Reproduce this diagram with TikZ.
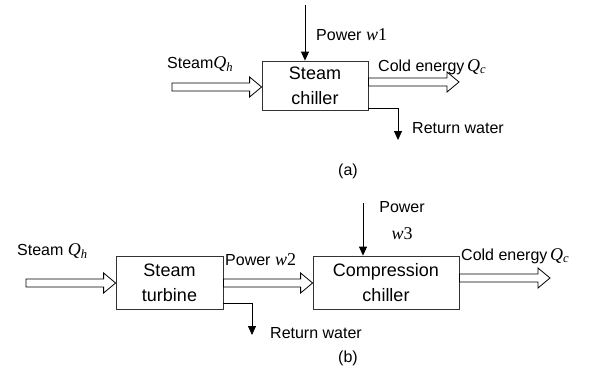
\documentclass[tikz,border=0pt]{standalone}
\usepackage{fontspec}
\setmainfont{Liberation Sans}
\newfontfamily\symfont{Liberation Serif}
\newcommand{\varsym}[2]{{\symfont\fontsize{18}{19}\selectfont\itshape #1\textsubscript{#2}}}
\newcommand{\varidx}[2]{{\symfont\fontsize{18}{19}\selectfont\textit{#1}#2}}
\usetikzlibrary{arrows.meta, calc}

\begin{document}
\begin{tikzpicture}[
  x=1pt, y=-1pt,
  unit/.style={draw=black!80, line width=0.8pt, align=center, inner sep=0pt, font=\fontsize{18}{25}\selectfont},
  pipe/.style={draw, line width=0.8pt, -{Triangle[length=9pt,width=8pt]}},
  hollow/.style={draw, line width=0.8pt, to path={
      ($(\tikztostart)+(0,-4)$) -- ($(\tikztotarget)+(-12,-4)$) -- ($(\tikztotarget)+(-12,-10)$)
      -- (\tikztotarget) -- ($(\tikztotarget)+(-12,10)$) -- ($(\tikztotarget)+(-12,4)$)
      -- ($(\tikztostart)+(0,4)$) -- cycle}},
  tag/.style={font=\fontsize{16}{19}\selectfont, anchor=west, inner sep=0pt}
]
\useasboundingbox (0,0) rectangle (594,372);

% Part (a)
\node[unit, minimum width=106, minimum height=49] (chiller) at (315,85.5) {Steam\\chiller};

\coordinate (steam1) at (172,87);
\coordinate (steam1e) at (chiller.west |- steam1);
\draw[hollow] (steam1) to (steam1e);
\node[tag] (steam1l) at (167,64) {Steam\varsym{Q}{h}};

\coordinate (pw1) at (305,5);
\draw[pipe] (pw1) -- (pw1 |- chiller.north);
\node[tag] (pw1l) at (316,35) {Power \varidx{w}{1}};

\coordinate (cold1) at (459,82);
\coordinate (cold1s) at (chiller.east |- cold1);
\draw[hollow] (cold1s) to (cold1);
\node[tag] (cold1l) at (378,67) {Cold energy\,\varsym{Q}{c}};

\coordinate (ret1) at (398,140);
\coordinate (ret1s) at ($(chiller.south east)+(0,-2)$);
\draw[pipe] (ret1s) -| (ret1);
\node[tag] (ret1l) at (412,128) {Return water};

\node[tag, anchor=center] (capa) at (348,171) {(a)};

% Part (b)
\node[unit, minimum width=107, minimum height=53] (turbine) at (169.5,282.5) {Steam\\turbine};
\node[unit, minimum width=146, minimum height=53] (comp) at (386,282.5) {Compression\\chiller};

\coordinate (steam2) at (26,283);
\coordinate (steam2e) at (steam2 -| turbine.west);
\draw[hollow] (steam2) to (steam2e);
\node[tag] (steam2l) at (17,251) {Steam \varsym{Q}{h}};

\coordinate (pw2s) at (turbine.east |- steam2);
\coordinate (pw2e) at (comp.west |- steam2);
\draw[hollow] (pw2s) to (pw2e);
\node[tag] (pw2l) at (225,260) {Power \varidx{w}{2}};

\coordinate (pw3) at (363,203);
\draw[pipe] (pw3) -- (pw3 |- comp.north);
\node[tag, align=center, anchor=center, font=\fontsize{16}{27}\selectfont] (pw3l) at (402,221) {Power\\\varidx{w}{3}};

\coordinate (cold2) at (550,278);
\coordinate (cold2s) at (comp.east |- cold2);
\draw[hollow] (cold2s) to (cold2);
\node[tag] (cold2l) at (461,256) {Cold energy\,\varsym{Q}{c}};

\coordinate (ret2) at (252,335);
\coordinate (ret2s) at ($(turbine.south east)+(0,-6)$);
\draw[pipe] (ret2s) -| (ret2);
\node[tag] (ret2l) at (270,333) {Return water};

\node[tag, anchor=center] (capb) at (348,358) {(b)};

\end{tikzpicture}
\end{document}
